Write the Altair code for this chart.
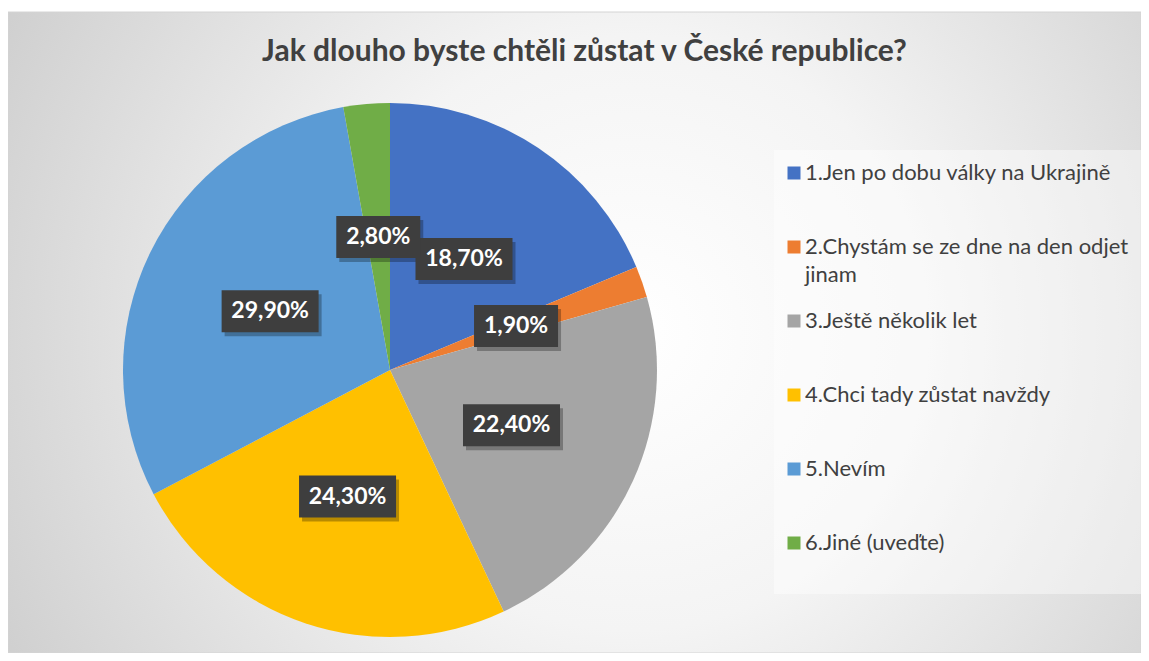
import math
import textwrap
import altair as alt
import pandas as pd

# ---------------- data ----------------
categories = [
    "1.Jen po dobu války na Ukrajině",
    "2.Chystám se ze dne na den odjet jinam",
    "3.Ještě několik let",
    "4.Chci tady zůstat navždy",
    "5.Nevím",
    "6.Jiné (uveďte)",
]
values = [18.7, 1.9, 22.4, 24.3, 29.9, 2.8]
value_labels = ["18,70%", "1,90%", "22,40%", "24,30%", "29,90%", "2,80%"]
colors = ["#4472C4", "#ED7D31", "#A5A5A5", "#FFC000", "#5B9BD5", "#70AD47"]
title_text = "Jak dlouho byste chtěli zůstat v České republice?"

# ---------------- layout ----------------
W, H = 1133, 641          # plot area
R = 267                   # pie radius (px)
CX, CY = 382, 358         # pie centre inside the plot area (px)
LABEL_R = 0.5             # label distance as share of radius
FONT = "Lato"
TEXT_COLOR = "#404040"

total = sum(values)
rows = []
cum = 0.0
for i, (c, v, l) in enumerate(zip(categories, values, value_labels)):
    mid = (cum + v / 2) / total * 2 * math.pi
    cum += v
    rows.append({
        "category": c,
        "value": v,
        "label": l,
        "order": i,
        "cx": 0.0,
        "cy": 0.0,
        "lx": LABEL_R * math.sin(mid),
        "ly": LABEL_R * math.cos(mid),
        "legend_text": "\n".join(textwrap.wrap(c, 32)),
        "short": len(l) <= 5,
    })
df = pd.DataFrame(rows)

xs = alt.Scale(domain=[-CX / R, (W - CX) / R], nice=False, zero=False)
ys = alt.Scale(domain=[-(H - CY) / R, CY / R], nice=False, zero=False)
color = alt.Color("category:N", scale=alt.Scale(domain=categories, range=colors), legend=None)

base = alt.Chart(df)

bg = alt.Chart(pd.DataFrame({"a": [0]})).mark_rect(
    fill={
        "gradient": "radial",
        "x1": 0.55, "y1": 0.5, "r1": 0,
        "x2": 0.55, "y2": 0.5, "r2": 0.75,
        "stops": [
            {"offset": 0, "color": "#ffffff"},
            {"offset": 0.35, "color": "#f4f4f4"},
            {"offset": 1, "color": "#c2c2c2"},
        ],
    },
    stroke="#d4d4d4",
    strokeWidth=1,
).encode(x=alt.value(0), x2=alt.value(W), y=alt.value(0), y2=alt.value(H))

legend_box = alt.Chart(pd.DataFrame({"a": [0]})).mark_rect(
    fill="#ffffff", opacity=0.42
).encode(x=alt.value(766), x2=alt.value(W), y=alt.value(138), y2=alt.value(582))

pie = base.mark_arc(radius=R).encode(
    x=alt.X("cx:Q", scale=xs, axis=None),
    y=alt.Y("cy:Q", scale=ys, axis=None),
    theta=alt.Theta("value:Q", stack=True),
    order=alt.Order("order:Q"),
    color=color,
)

pos = dict(
    x=alt.X("lx:Q", scale=xs, axis=None),
    y=alt.Y("ly:Q", scale=ys, axis=None),
)

shadow_long = base.transform_filter("!datum.short").mark_rect(
    width=97, height=42, color="#000000", opacity=0.28, xOffset=3, yOffset=4
).encode(**pos)
shadow_short = base.transform_filter("datum.short").mark_rect(
    width=84, height=42, color="#000000", opacity=0.28, xOffset=3, yOffset=4
).encode(**pos)
box_long = base.transform_filter("!datum.short").mark_rect(
    width=97, height=42, color="#3e3e3e"
).encode(**pos)
box_short = base.transform_filter("datum.short").mark_rect(
    width=84, height=42, color="#3e3e3e"
).encode(**pos)
label_text = base.mark_text(
    font=FONT, fontSize=23, fontWeight="bold", color="#ffffff"
).encode(text="label:N", **pos)

legend_y = alt.Y(
    "category:N",
    scale=alt.Scale(type="point", domain=categories, range=[161, 531], padding=0),
    axis=None,
)
legend_sym = base.mark_square(size=169, opacity=1, filled=True).encode(
    x=alt.value(786), y=legend_y, color=color
)
legend_txt = base.mark_text(
    font=FONT, fontSize=22, color=TEXT_COLOR, align="left", baseline="top",
    dy=-10, lineBreak="\n", lineHeight=28,
).encode(x=alt.value(797), y=legend_y, text="legend_text:N")

chart = (
    alt.layer(
        bg, legend_box, pie, shadow_long, shadow_short, box_long, box_short,
        label_text, legend_sym, legend_txt,
    )
    .resolve_scale(y="independent")
    .properties(
        width=W,
        height=H,
        padding={"top": 4, "left": 0, "right": 0, "bottom": 0},
        autosize=alt.AutoSizeParams(type="none"),
        background="#ffffff",
        title=alt.TitleParams(
            title_text, anchor="middle", offset=-70, baseline="middle",
            font=FONT, fontSize=30, fontWeight="bold", color=TEXT_COLOR, dx=10,
        ),
    )
    .configure_view(stroke=None)
)

chart.save("out.html", embed_options={"renderer": "svg", "actions": False})
